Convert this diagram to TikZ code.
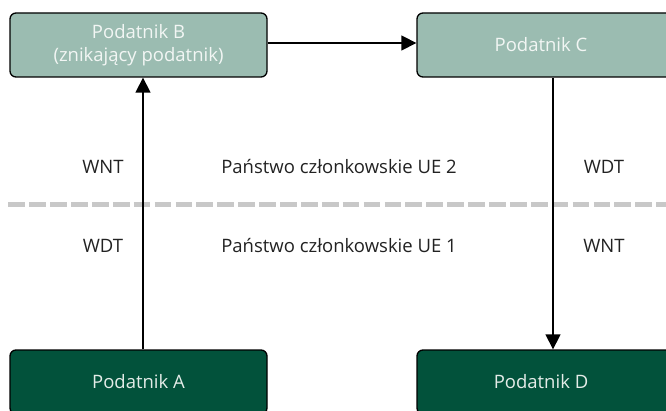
\documentclass[tikz,border=0pt]{standalone}
\usepackage{fontspec}
\setmainfont{Open Sans}
\usetikzlibrary{arrows.meta}
\definecolor{lightbox}{HTML}{9BBCB1}
\definecolor{darkbox}{HTML}{02523B}
\definecolor{lighttext}{HTML}{F2F6F4}
\definecolor{darktext}{HTML}{E4ECE8}
\definecolor{labeltext}{HTML}{222222}
\definecolor{dashgray}{HTML}{C8C8C8}
\tikzset{
  boxbase/.style={draw=black, line width=1.3pt, rounded corners=6pt, minimum width=257pt, minimum height=64pt, inner sep=0pt, align=center, font=\fontsize{18.5}{23}\selectfont},
  lightnode/.style={boxbase, fill=lightbox, text=lighttext},
  darknode/.style={boxbase, fill=darkbox, text=darktext},
  lbl/.style={text=labeltext, font=\fontsize{18.5}{22}\selectfont, inner sep=0pt},
  flow/.style={line width=1.3pt, -{Triangle[length=15pt,width=15pt]}},
  sep/.style={draw=dashgray, line width=5pt, dash pattern=on 16.7pt off 4.2pt}
}
\begin{document}
\begin{tikzpicture}[x=1pt,y=-1pt]
\useasboundingbox (0,0) rectangle (666,411);
\draw[sep] (8.3,204.7) -- (680,204.7);
\node[lightnode] (B) at (138.5,45) {Podatnik B\\(znikający podatnik)};
\node[lightnode] (C) at (545.5,45) {\hspace*{-9pt}Podatnik C};
\node[darknode] (A) at (138.5,382) {Podatnik A};
\node[darknode] (D) at (545.5,382) {\hspace*{-9pt}Podatnik D};
\node[lbl] (l1) at (103,167) {WNT};
\node[lbl] (l2) at (339,167) {Państwo członkowskie UE 2};
\node[lbl] (l3) at (604,167) {WDT};
\node[lbl] (l4) at (103,246) {WDT};
\node[lbl] (l5) at (339,246) {Państwo członkowskie UE 1};
\node[lbl] (l6) at (604,246) {WNT};
\draw[flow] (A.north -| 143,0) -- (B.south -| 143,0);
\draw[flow] (B.east |- 0,43) -- (C.west |- 0,43);
\draw[flow] (C.south -| 553,0) -- (D.north -| 553,0);
\end{tikzpicture}
\end{document}
